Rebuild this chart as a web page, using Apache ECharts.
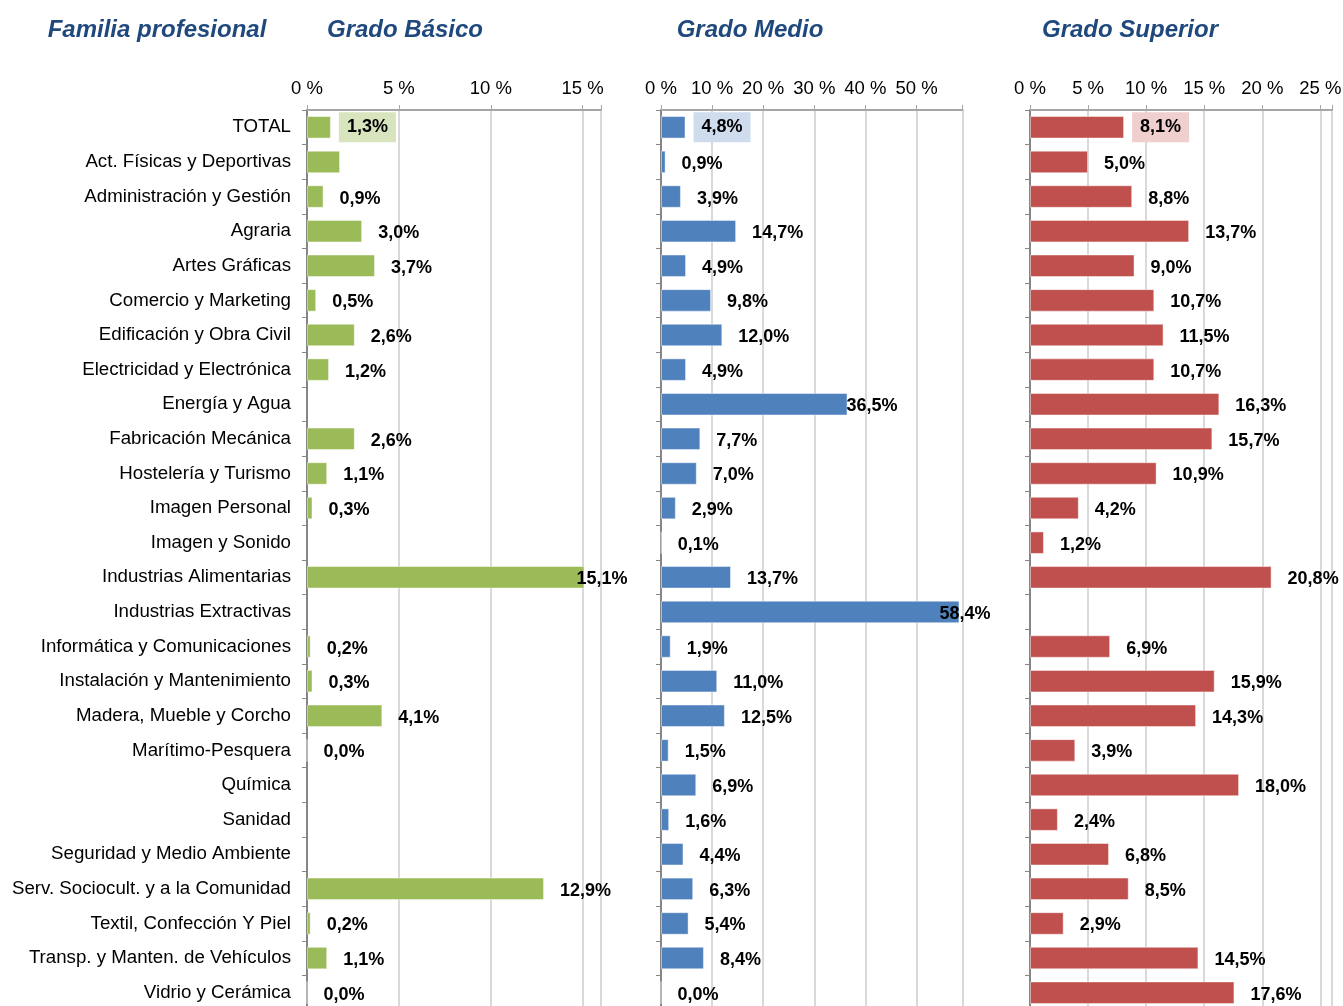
<!DOCTYPE html>
<html>
<head>
<meta charset="utf-8">
<title>Familia profesional por grado</title>
<script src="https://cdn.jsdelivr.net/npm/echarts@6/dist/echarts.min.js"></script>
<style>
html,body{margin:0;padding:0;background:#fff;}
#chart{width:1343px;height:1006px;}
</style>
</head>
<body>
<div id="chart"></div>
<script>
// categorias (familias profesionales)
var categorias = ['TOTAL', 'Act. Físicas y Deportivas', 'Administración y Gestión', 'Agraria', 'Artes Gráficas',
	'Comercio y Marketing', 'Edificación y Obra Civil', 'Electricidad y Electrónica', 'Energía y Agua',
	'Fabricación Mecánica', 'Hostelería y Turismo', 'Imagen Personal', 'Imagen y Sonido',
	'Industrias Alimentarias', 'Industrias Extractivas', 'Informática y Comunicaciones',
	'Instalación y Mantenimiento', 'Madera, Mueble y Corcho', 'Marítimo-Pesquera', 'Química', 'Sanidad',
	'Seguridad y Medio Ambiente', 'Serv. Sociocult. y a la Comunidad', 'Textil, Confección Y Piel',
	'Transp. y Manten. de Vehículos', 'Vidrio y Cerámica'];
// valores (%) - '-' = sin dato
var basico = [1.3, 1.8, 0.9, 3.0, 3.7, 0.5, 2.6, 1.2, '-', 2.6, 1.1, 0.3, '-', 15.1, '-', 0.2, 0.3, 4.1, 0.0, '-', '-', '-', 12.9, 0.2, 1.1, 0.0];
var medio = [4.8, 0.9, 3.9, 14.7, 4.9, 9.8, 12.0, 4.9, 36.5, 7.7, 7.0, 2.9, 0.1, 13.7, 58.4, 1.9, 11.0, 12.5, 1.5, 6.9, 1.6, 4.4, 6.3, 5.4, 8.4, 0.0];
var superior = [8.1, 5.0, 8.8, 13.7, 9.0, 10.7, 11.5, 10.7, 16.3, 15.7, 10.9, 4.2, 1.2, 20.8, '-', 6.9, 15.9, 14.3, 3.9, 18.0, 2.4, 6.8, 8.5, 2.9, 14.5, 17.6];
// ejes
var ejeMax = [16, 59, 26];
var ejePaso = [5, 10, 5];
var titulos = ['Familia profesional', 'Grado Básico', 'Grado Medio', 'Grado Superior'];

var fuente = '"Liberation Sans", Arial, sans-serif';

//montar datos con etiquetas (TOTAL con caja de color)
function montarDatos(valores, colorCaja, desplaz, ocultas) {
	var arr = [];
	for (var i = 0; i < valores.length; i++) {
		var item = {value: valores[i]};
		if (i == 0) {
			item.label = {backgroundColor: colorCaja, padding: [6, 8], distance: 8, offset: [0, 0]};
		}
		if (desplaz[i] !== undefined) {
			item.label = {distance: desplaz[i]};
		}
		if (ocultas.indexOf(i) >= 0) {
			item.label = {show: false};
		}
		arr.push(item);
	}
	return arr;
}

function formatoPct(p) {
	if (p.value === '-' || p.value == null) return '';
	return p.value.toFixed(1).replace('.', ',') + '%';
}

var grids = [
	{left: 307, top: 110, width: 294, height: 900, outerBoundsMode: 'none'},
	{left: 661, top: 110, width: 301.5, height: 900, outerBoundsMode: 'none'},
	{left: 1030, top: 110, width: 302, height: 900, outerBoundsMode: 'none'}
];

var xAxes = [], yAxes = [];
for (var g = 0; g < 3; g++) {
	(function(g){
		xAxes.push({
			type: 'value',
			gridIndex: g,
			position: 'top',
			min: 0,
			max: ejeMax[g],
			interval: ejePaso[g],
			axisLine: {show: true, lineStyle: {color: '#a6a6a6', width: 2}},
			axisTick: {show: true, length: 5, lineStyle: {color: '#a6a6a6', width: 1}},
			axisLabel: {
				margin: 12,
				fontSize: 18.5,
				fontFamily: fuente,
				color: '#000',
				formatter: function(v) {
					return (v % ejePaso[g] == 0) ? v + ' %' : '';
				}
			},
			splitLine: {show: true, lineStyle: {color: '#d9d9d9', width: 2}}
		});
		yAxes.push({
			type: 'category',
			gridIndex: g,
			data: categorias,
			inverse: true,
			axisLine: {show: true, lineStyle: {color: '#868686', width: 2}},
			axisTick: {show: true, length: 5, lineStyle: {color: '#868686', width: 1}},
			axisLabel: {
				show: g == 0,
				margin: 16,
				padding: [4, 0, 0, 0],
				fontSize: 18.7,
				fontFamily: fuente,
				color: '#000'
			},
			splitLine: {show: false}
		});
	})(g);
}

function serie(nombre, idx, datos, color) {
	return {
		name: nombre,
		type: 'bar',
		xAxisIndex: idx,
		yAxisIndex: idx,
		barWidth: '65%',
		itemStyle: {color: color, borderColor: 'rgba(255,255,255,0.45)', borderWidth: 1},
		label: {
			show: true,
			position: 'right',
			distance: 16,
			offset: [0, 2],
			fontSize: 18,
			fontWeight: 'bold',
			fontFamily: fuente,
			color: '#000',
			formatter: formatoPct
		},
		data: datos
	};
}

var chartDom = document.getElementById('chart');
var myChart = echarts.init(chartDom);
var fuenteTitulo = 'italic bold 24px ' + fuente;
var option = {
	backgroundColor: '#fff',
	animation: false,
	graphic: [
		{type: 'text', x: 157, y: 30, style: {text: titulos[0], textAlign: 'center', textVerticalAlign: 'middle', fill: '#1f497d', font: fuenteTitulo}},
		{type: 'text', x: 405, y: 30, style: {text: titulos[1], textAlign: 'center', textVerticalAlign: 'middle', fill: '#1f497d', font: fuenteTitulo}},
		{type: 'text', x: 750, y: 30, style: {text: titulos[2], textAlign: 'center', textVerticalAlign: 'middle', fill: '#1f497d', font: fuenteTitulo}},
		{type: 'text', x: 1130, y: 30, style: {text: titulos[3], textAlign: 'center', textVerticalAlign: 'middle', fill: '#1f497d', font: fuenteTitulo}}
	],
	grid: grids,
	xAxis: xAxes,
	yAxis: yAxes,
	series: [
		serie('Grado Básico', 0, montarDatos(basico, '#d7e4bd', {13: -8}, [1]), '#9bbb59'),
		serie('Grado Medio', 1, montarDatos(medio, '#cfdcee', {8: -1, 14: -20}, []), '#4f81bd'),
		serie('Grado Superior', 2, montarDatos(superior, '#f0cfcf', {}, []), '#c0504d')
	]
};
myChart.setOption(option);
</script>
</body>
</html>
